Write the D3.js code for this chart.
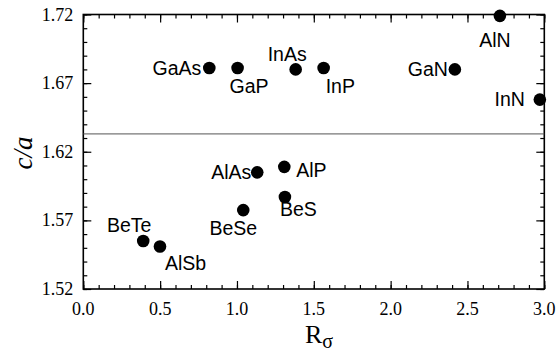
<!DOCTYPE html>
<html>
<head>
<meta charset="utf-8">
<script src="https://cdn.jsdelivr.net/npm/d3@7"></script>
<style>
  body { margin: 0; background: #fff; }
  svg { display: block; }
</style>
</head>
<body>
<div id="chart"></div>
<script>
// données
const compounds = ['GaAs', 'GaP', 'InAs', 'InP', 'GaN', 'AlN', 'InN', 'AlAs', 'AlP', 'BeS', 'BeSe', 'BeTe', 'AlSb'];
const rSigma = [0.82, 1.004, 1.382, 1.564, 2.418, 2.711, 2.971, 1.132, 1.308, 1.312, 1.041, 0.39, 0.499];
const cOverA = [1.681, 1.681, 1.680, 1.681, 1.680, 1.719, 1.658, 1.605, 1.609, 1.587, 1.5775, 1.555, 1.551];
const xTicks = [0.0, 0.5, 1.0, 1.5, 2.0, 2.5, 3.0];
const yTicks = [1.52, 1.57, 1.62, 1.67, 1.72];
const idealRatio = 1.633;

// placement des étiquettes (anchor, dx, dy centre)
const labelPlace = {
  GaAs: ['end', -8, 0], GaP: ['start', -8, 18], InAs: ['end', 11, -15], InP: ['start', 2, 18],
  GaN: ['end', -7, 0], AlN: ['middle', -5, 24], InN: ['end', -15, 0], AlAs: ['end', -6, 0],
  AlP: ['start', 12, 3], BeS: ['start', -5, 12], BeSe: ['middle', -10, 18], BeTe: ['middle', -14, -16],
  AlSb: ['start', 5, 17]
};

const W = 560, H = 355;
const mLeft = 83.3, mRight = 544.3, mTop = 14.5, mBottom = 289;

const svg = d3.select('#chart').append('svg')
  .attr('width', W).attr('height', H);

const x = d3.scaleLinear().domain([0, 3]).range([mLeft, mRight]);
const y = d3.scaleLinear().domain([1.52, 1.72]).range([mBottom, mTop]);

const xMinor = d3.range(0, 3.0001, 0.1);
const yMinor = d3.range(1.52, 1.72001, 0.01);

// ticks vers l'intérieur sur les 4 côtés
function ticks(axisFn, scale, vals, len, translate) {
  svg.append('g')
    .attr('transform', translate)
    .call(axisFn(scale).tickValues(vals).tickSize(len).tickFormat(''))
    .call(g => g.select('.domain').remove())
    .selectAll('line').attr('stroke', '#000').attr('stroke-width', 1.2);
}
ticks(d3.axisTop, x, xMinor, 4, `translate(0,${mBottom})`);
ticks(d3.axisTop, x, xTicks, 8, `translate(0,${mBottom})`);
ticks(d3.axisBottom, x, xMinor, 4, `translate(0,${mTop})`);
ticks(d3.axisBottom, x, xTicks, 8, `translate(0,${mTop})`);
ticks(d3.axisRight, y, yMinor, 4, `translate(${mLeft},0)`);
ticks(d3.axisRight, y, yTicks, 8, `translate(${mLeft},0)`);
ticks(d3.axisLeft, y, yMinor, 4, `translate(${mRight},0)`);
ticks(d3.axisLeft, y, yTicks, 8, `translate(${mRight},0)`);

// cadre
svg.append('rect')
  .attr('x', mLeft).attr('y', mTop)
  .attr('width', mRight - mLeft).attr('height', mBottom - mTop)
  .attr('fill', 'none').attr('stroke', '#000').attr('stroke-width', 1.6);

// labels des ticks
svg.append('g').selectAll('text').data(xTicks).enter().append('text')
  .attr('x', d => x(d)).attr('y', mBottom + 26)
  .attr('text-anchor', 'middle')
  .style('font', '18px "Liberation Serif", serif')
  .text(d => d.toFixed(1));

svg.append('g').selectAll('text').data(yTicks).enter().append('text')
  .attr('x', mLeft - 10).attr('y', d => y(d) + 6)
  .attr('text-anchor', 'end')
  .style('font', '18px "Liberation Serif", serif')
  .text(d => d.toFixed(2));

// ligne c/a idéal
svg.append('line')
  .attr('x1', x(0)).attr('x2', x(3))
  .attr('y1', y(idealRatio)).attr('y2', y(idealRatio))
  .attr('stroke', '#555').attr('stroke-width', 1);

// points
const pts = compounds.map((c, i) => ({ name: c, r: rSigma[i], ca: cOverA[i] }));

svg.append('g').selectAll('circle').data(pts).enter().append('circle')
  .attr('cx', d => x(d.r)).attr('cy', d => y(d.ca))
  .attr('r', 6.3).attr('fill', '#000');

svg.append('g').selectAll('text').data(pts).enter().append('text')
  .attr('x', d => x(d.r) + labelPlace[d.name][1])
  .attr('y', d => y(d.ca) + labelPlace[d.name][2] + 6.8)
  .attr('text-anchor', d => labelPlace[d.name][0])
  .style('font', '19.5px "Liberation Sans", Arial, sans-serif')
  .text(d => d.name);

// titres des axes
svg.append('text')
  .attr('transform', 'translate(32,153) rotate(-90)')
  .attr('text-anchor', 'middle')
  .style('font', 'italic 27px "Liberation Serif", serif')
  .text('c/a');

const xt = svg.append('text')
  .attr('x', 305).attr('y', 343)
  .style('font', '26px "Liberation Serif", serif');
xt.append('tspan').text('R');
xt.append('tspan').attr('dy', 5).style('font-size', '20px').text('σ');
</script>
</body>
</html>
